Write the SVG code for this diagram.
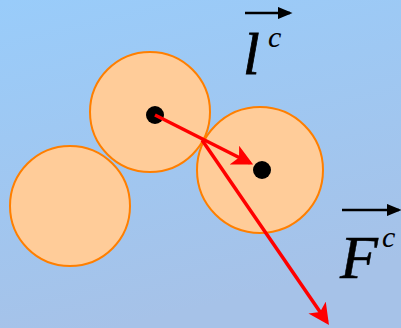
<svg xmlns="http://www.w3.org/2000/svg" width="401" height="328" viewBox="0 0 401 328">
<style>
.ball{fill:#FFCC99;stroke:#FF7F00;stroke-width:2}
.dot{fill:#000}
.vec{stroke:#FF0000;stroke-width:3.5;fill:none;marker-end:url(#ah)}
.lab{font-family:"Liberation Serif",serif;font-style:italic;fill:#000}
.bar{stroke:#000;stroke-width:2.5;fill:none;marker-end:url(#bh)}
</style>
<defs>
<linearGradient id="bg" x1="0" y1="0" x2="0.3" y2="1">
<stop offset="0" stop-color="#99CCFA"/>
<stop offset="1" stop-color="#A6C2E8"/>
</linearGradient>
<marker id="ah" markerWidth="6" markerHeight="6" refX="5" refY="3" orient="auto" markerUnits="strokeWidth">
<path d="M0,0 L6,3 L0,6 L1.5,3 Z" fill="#FF0000"/>
</marker>
<marker id="bh" markerWidth="6" markerHeight="5" refX="5" refY="2.5" orient="auto" markerUnits="strokeWidth">
<path d="M0,0 L6,2.5 L0,5 Z" fill="#000"/>
</marker>
</defs>
<rect width="401" height="328" fill="url(#bg)"/>
<g id="ball3"><circle class="ball" cx="70" cy="206" r="60"/></g>
<g id="ball1"><circle class="ball" cx="150" cy="112" r="60"/><circle class="dot" cx="155" cy="115" r="9"/></g>
<g id="ball2"><circle class="ball" cx="260" cy="170" r="63"/><circle class="dot" cx="262" cy="170" r="9"/></g>
<g id="connectors">
<line class="vec" x1="155" y1="115" x2="250" y2="163"/>
<line class="vec" x1="202" y1="140" x2="327" y2="322"/>
</g>
<g id="label-l">
<line class="bar" x1="245" y1="13" x2="290" y2="13"/>
<text class="lab" x="243" y="74" font-size="60" stroke="#000" stroke-width="0.8">l</text>
<text class="lab" x="268" y="47" font-size="30">c</text>
</g>
<g id="label-F">
<line class="bar" x1="342" y1="210" x2="399" y2="210"/>
<text class="lab" x="340" y="278" font-size="62" stroke="#000" stroke-width="0.5">F</text>
<text class="lab" x="382" y="247" font-size="30">c</text>
</g>
</svg>
